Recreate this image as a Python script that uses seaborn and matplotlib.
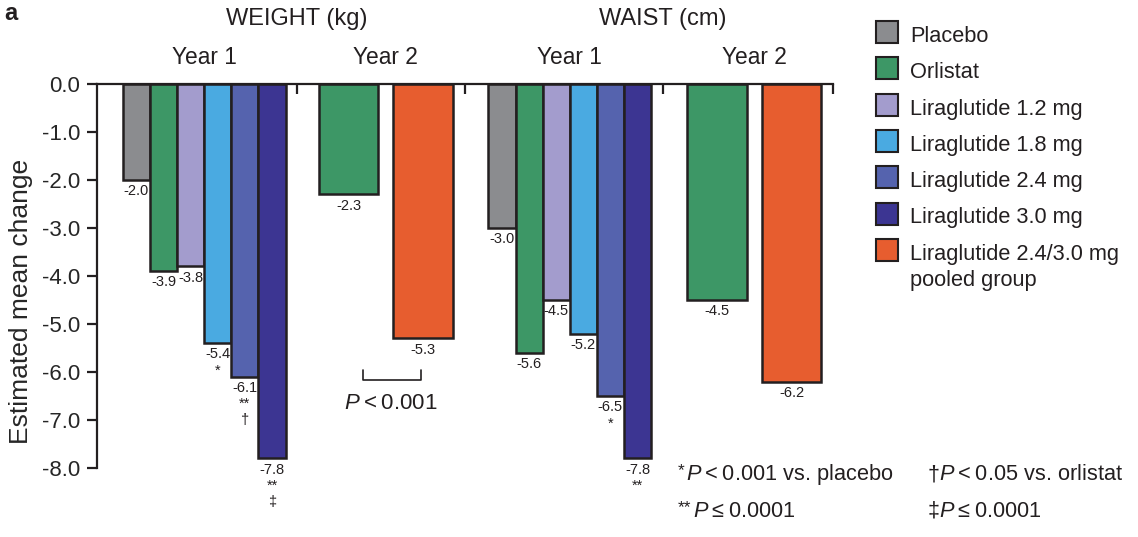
import numpy as np
import pandas as pd
import matplotlib
matplotlib.use('Agg')
import matplotlib.pyplot as plt
from matplotlib.patches import Rectangle
import seaborn as sns

# values
ARMS = ['Placebo', 'Orlistat', 'Liraglutide 1.2 mg', 'Liraglutide 1.8 mg',
        'Liraglutide 2.4 mg', 'Liraglutide 3.0 mg']
POOLED = 'Liraglutide 2.4/3.0 mg\npooled group'
YEAR2_ARMS = ['Orlistat', POOLED]

weight_y1 = [-2.0, -3.9, -3.8, -5.4, -6.1, -7.8]
weight_y2 = [-2.3, -5.3]
waist_y1 = [-3.0, -5.6, -4.5, -5.2, -6.5, -7.8]
waist_y2 = [-4.5, -6.2]

weight_marks = ['', '', '', '*', '**\n†', '**\n‡']
waist_marks = ['', '', '', '', '*', '**']

yticks = [0.0, -1.0, -2.0, -3.0, -4.0, -5.0, -6.0, -7.0, -8.0]

COLORS = {
    'Placebo': '#8b8c8f',
    'Orlistat': '#3d9766',
    'Liraglutide 1.2 mg': '#a39ccd',
    'Liraglutide 1.8 mg': '#4aaae1',
    'Liraglutide 2.4 mg': '#5563ae',
    'Liraglutide 3.0 mg': '#3c3592',
    POOLED: '#e75d2f',
}
EDGE = '#231f20'

sns.set_style('white')
plt.rcParams['font.family'] = ['Liberation Sans', 'DejaVu Sans']
plt.rcParams['mathtext.fontset'] = 'custom'
plt.rcParams['mathtext.rm'] = 'Liberation Sans'
plt.rcParams['mathtext.it'] = 'Liberation Sans:italic'
plt.rcParams['text.color'] = EDGE

# layout: x axis runs in figure pixels so the panels line up with the original
W, H = 1138, 537
X0, X1 = 97, 833
Y_TOP, Y_BOT = 84, 468
STEP1 = 27.1
y1_start = {'weight': 136.5, 'waist': 502.0}
y2_start = {'weight': 348.5, 'waist': 717.0}
STEP2 = 74.5
sep_ticks = [297, 465, 663, 833]

fig = plt.figure(figsize=(W / 100, H / 100), dpi=100)
ax = fig.add_axes([X0 / W, (H - Y_BOT) / H, (X1 - X0) / W, (Y_BOT - Y_TOP) / H])

pos1 = {k: [s + STEP1 * i for i in range(len(ARMS))] for k, s in y1_start.items()}
pos2 = {k: [s + STEP2 * i for i in range(len(YEAR2_ARMS))] for k, s in y2_start.items()}

df1 = pd.DataFrame({
    'x': pos1['weight'] + pos1['waist'],
    'change': weight_y1 + waist_y1,
    'arm': ARMS + ARMS,
})
df2 = pd.DataFrame({
    'x': pos2['weight'] + pos2['waist'],
    'change': weight_y2 + waist_y2,
    'arm': YEAR2_ARMS + YEAR2_ARMS,
})

bar_kw = dict(x='x', y='change', hue='arm', palette=COLORS, native_scale=True,
              dodge=False, saturation=1, errorbar=None, edgecolor=EDGE,
              linewidth=1.8, legend=False, ax=ax)
sns.barplot(data=df1, width=1.0, **bar_kw)
sns.barplot(data=df2, width=59.5 / 74, **bar_kw)

ax.set_xlim(X0, X1)
ax.set_ylim(-8, 0)
ax.set_xlabel('')
for s in ['bottom', 'right']:
    ax.spines[s].set_visible(False)
for s in ['left', 'top']:
    ax.spines[s].set_linewidth(1.6)
    ax.spines[s].set_color(EDGE)

ax.xaxis.set_ticks_position('top')
ax.set_xticks(sep_ticks)
ax.tick_params(axis='x', direction='in', length=7, width=1.6, color=EDGE,
               labeltop=False, labelbottom=False)
ax.set_yticks(yticks)
ax.set_yticklabels([f'{t:.1f}' for t in yticks])
ax.tick_params(axis='y', direction='out', length=7, width=1.6, color=EDGE,
               labelsize=16, pad=5, left=True)

ax.set_ylabel('Estimated mean change', fontsize=19)
ax.yaxis.set_label_coords((33 - X0) / (X1 - X0), (Y_BOT - 301) / (Y_BOT - Y_TOP))

# value labels (and significance marks) under each bar
for xs, vals, marks in [(pos1['weight'], weight_y1, weight_marks),
                        (pos1['waist'], waist_y1, waist_marks),
                        (pos2['weight'], weight_y2, ['', '']),
                        (pos2['waist'], waist_y2, ['', ''])]:
    for x, v, m in zip(xs, vals, marks):
        txt = f'{v:.1f}' + ('\n' + m if m else '')
        ax.annotate(txt, (x, v), xytext=(0, -3), textcoords='offset points',
                    ha='center', va='top', fontsize=10.5, linespacing=1.2,
                    annotation_clip=False)

# headers
fp = ('data', 'figure pixels')
for key, title, cx in [('weight', 'WEIGHT (kg)', sep_ticks[0]),
                       ('waist', 'WAIST (cm)', sep_ticks[2])]:
    ax.annotate(title, (cx, H - 19), xycoords=fp, ha='center', va='center',
                fontsize=17)
    ax.annotate('Year 1', (np.mean(pos1[key]), H - 58), xycoords=fp,
                ha='center', va='center', fontsize=16.4)
    ax.annotate('Year 2', (np.mean(pos2[key]), H - 58), xycoords=fp,
                ha='center', va='center', fontsize=16.4)

fig.text(4 / W, 1 - 14 / H, 'a', fontsize=17, fontweight='bold', va='center')

# bracket comparing the year-2 weight arms
bx0, bx1 = pos2['weight'][0] + 14, pos2['weight'][1] - 2
ax.plot([bx0, bx0, bx1, bx1], [-5.96, -6.17, -6.17, -5.96], color=EDGE,
        lw=1.2, clip_on=False)
ax.text((bx0 + bx1) / 2 - 1, -6.65, '$P$\u2009<\u20090.001', ha='center',
        va='center', fontsize=16)

# footnotes: small raised symbol, then the p-value text on the same baseline
notes = [(678, 480, '*', True, '$P$\u2009<\u20090.001 vs. placebo'),
         (678, 517, '**', True, '$P$\u2009\u2264\u20090.0001'),
         (928, 480, '\u2020', False, '$P$\u2009<\u20090.05 vs. orlistat'),
         (928, 517, '\u2021', False, '$P$\u2009\u2264\u20090.0001')]
for nx, base, sym, small, t in notes:
    if small:
        fig.text(nx / W, 1 - (base - 4.5) / H, sym, ha='left', va='baseline',
                 fontsize=12.5)
        tx = nx + 6.8 * len(sym) + 1.5
    else:
        fig.text(nx / W, 1 - base / H, sym, ha='left', va='baseline',
                 fontsize=15.5)
        tx = nx + 11
    fig.text(tx / W, 1 - base / H, t, ha='left', va='baseline', fontsize=15.7)

# legend drawn by hand: squares with label baselines at the square bottoms
for i, arm in enumerate(ARMS + [POOLED]):
    yc = 32 + i * 36.3
    fig.add_artist(Rectangle((876 / W, 1 - (yc + 11) / H), 22 / W, 22 / H,
                             transform=fig.transFigure, facecolor=COLORS[arm],
                             edgecolor=EDGE, linewidth=1.5))
    for j, line in enumerate(arm.split('\n')):
        fig.text(910 / W, 1 - (yc + 10 + j * 26) / H, line, ha='left',
                 va='baseline', fontsize=15.7)

fig.savefig('out.png', dpi=100)
